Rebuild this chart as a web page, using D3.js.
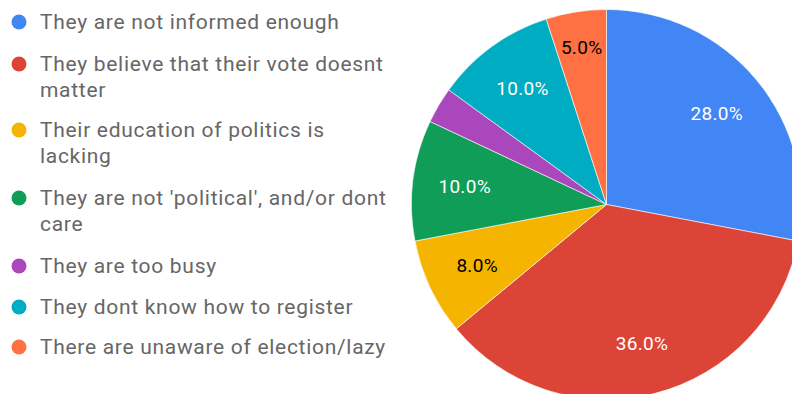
<!DOCTYPE html>
<html><head><meta charset="utf-8">
<script src="https://cdn.jsdelivr.net/npm/d3@7"></script>
<style>html,body{margin:0;padding:0;background:#fff;overflow:hidden}</style>
</head><body>
<svg id="c" width="792" height="394"></svg>
<script>
const categories = [
  "They are not informed enough",
  "They believe that their vote doesnt matter",
  "Their education of politics is lacking",
  "They are not 'political', and/or dont care",
  "They are too busy",
  "They dont know how to register",
  "There are unaware of election/lazy"
];
const legendLines = [
  ["They are not informed enough"],
  ["They believe that their vote doesnt", "matter"],
  ["Their education of politics is", "lacking"],
  ["They are not 'political', and/or dont", "care"],
  ["They are too busy"],
  ["They dont know how to register"],
  ["There are unaware of election/lazy"]
];
const values = [28, 36, 8, 10, 3, 10, 5];
const colors = ["#4285f4", "#db4437", "#f4b400", "#0f9d58", "#ab47bc", "#00acc1", "#ff7043"];
const labelColors = ["#fff", "#fff", "#000", "#fff", "#fff", "#fff", "#000"];

const svg = d3.select("#c");
const cx = 606.5, cy = 204.5, R = 195, LR = 143;
const total = d3.sum(values);
const pie = d3.pie().sort(null).value(d => d)(values);
const arc = d3.arc().innerRadius(0).outerRadius(R);
const g = svg.append("g").attr("transform", `translate(${cx},${cy})`);
g.selectAll("path").data(pie).join("path")
  .attr("d", arc).attr("fill", (d,i) => colors[i])
  .attr("stroke", "#fff").attr("stroke-width", 0.6);

// label placement: start at LR, push outward until the text box fits inside the wedge
function angOf(x, y) { let a = Math.atan2(x, -y); if (a < 0) a += 2 * Math.PI; return a; }
function fits(d, r, hw, hh) {
  const m = (d.startAngle + d.endAngle) / 2;
  const x = r * Math.sin(m), y = -r * Math.cos(m);
  const pts = [[x-hw,y-hh],[x+hw,y-hh],[x-hw,y+hh],[x+hw,y+hh]];
  return pts.every(([px,py]) => {
    let a = angOf(px, py);
    if (d.endAngle > 2*Math.PI - 1e-9 && a < Math.PI / 2) a += 2 * Math.PI;
    return a >= d.startAngle && a <= d.endAngle && Math.hypot(px,py) < R;
  });
}
const labels = g.selectAll("text").data(pie.filter(d => d.value / total >= 0.05)).join("text")
  .attr("text-anchor", "middle").attr("dy", "0.35em")
  .attr("font-family", "Roboto").attr("font-size", 19).attr("letter-spacing", 0.3)
  .attr("fill", d => labelColors[d.index])
  .text(d => (d.value / total * 100).toFixed(1) + "%");
labels.each(function(d) {
  const w = this.getComputedTextLength();
  let r = LR;
  while (!fits(d, r, w / 2 + 3, 7) && r < R - 10) r += 1;
  const m = (d.startAngle + d.endAngle) / 2;
  d3.select(this).attr("x", r * Math.sin(m)).attr("y", -r * Math.cos(m));
});

const legendY = [22, 64, 130, 198, 266, 307, 347];
const lg = svg.append("g");
legendLines.forEach((lines, i) => {
  lg.append("circle").attr("cx", 19).attr("cy", legendY[i]).attr("r", 7.5).attr("fill", colors[i]);
  lines.forEach((t, j) => {
    lg.append("text").attr("x", 40).attr("y", legendY[i] + j * 26).attr("dy", "0.35em")
      .attr("font-family", "Roboto").attr("font-size", 21).attr("letter-spacing", 0.7).attr("fill", "#666")
      .text(t);
  });
});
</script>
</body></html>
